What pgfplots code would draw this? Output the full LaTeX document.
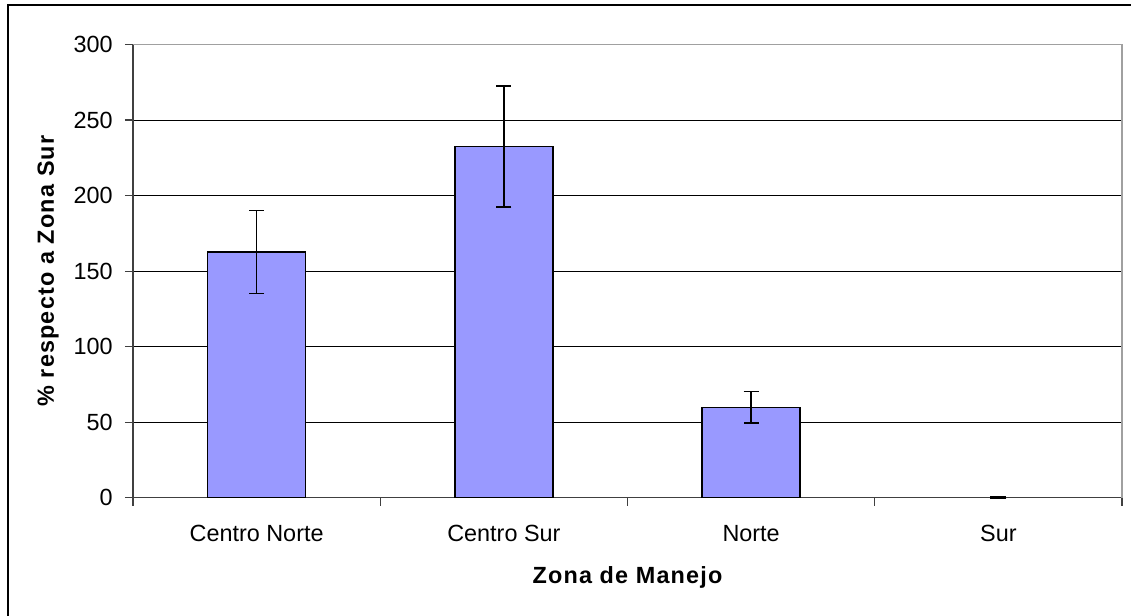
\documentclass[border=0pt]{standalone}
\usepackage{fontspec}
\setmainfont{Liberation Sans}
\newfontfamily\lblfont[LetterSpace=5]{Liberation Sans}
\usepackage{pgfplots}
\pgfplotsset{compat=1.18}
\definecolor{barblue}{HTML}{9999FF}
\definecolor{bordergray}{HTML}{A0A0A0}
\definecolor{axisgray}{HTML}{404040}
\begin{document}
\begin{tikzpicture}
\useasboundingbox (-66.5pt,-59.15pt) rectangle (499pt,248.85pt);
\begin{axis}[
  at={(0pt,0pt)}, anchor=south west,
  scale only axis, width=494.5pt, height=226.6pt,
  xmin=-0.5, xmax=3.5, ymin=0, ymax=300,
  axis x line*=bottom, axis y line*=left,
  axis line style={axisgray, line width=0.6pt},
  xtick={-0.5,0.5,1.5,2.5,3.5},
  x tick label as interval,
  xticklabels={Centro Norte,Centro Sur,Norte,Sur},
  ytick={0,50,100,150,200,250,300},
  tick align=outside, major tick length=4pt,
  tick style={axisgray, line width=0.6pt},
  xtick pos=bottom, ytick pos=left,
  ymajorgrids, major grid style={black, line width=0.5pt},
  /pgf/number format/assume math mode=true,
  tick label style={font=\fontsize{11.7}{14}\selectfont, text=black},
  yticklabel style={anchor=east, inner sep=0pt, xshift=-6pt},
  xticklabel style={anchor=base, inner sep=0pt, yshift=-18pt},
  xlabel={\lblfont\bfseries Zona de Manejo},
  ylabel={\lblfont\bfseries \% respecto a Zona Sur},
  label style={font=\fontsize{11.7}{14}\selectfont},
  x label style={at={(axis description cs:0.5,-0.175)}, anchor=center},
  y label style={at={(axis description cs:-0.0859,0.5)}, anchor=center},
  clip=false,
]
\addplot[ybar, bar width=49pt, bar shift=0pt, fill=barblue, draw=black, line width=0.75pt,
  error bars/.cd, y dir=both, y explicit,
  error mark=-,
  error bar style={black, line width=0.65pt},
  error mark options={rotate=90, black, mark size=3.75pt, line width=0.65pt}]
  coordinates {
    (0,162.5) +- (0,27.5)
    (1,232.5) +- (0,40)
    (2,59.8)  +- (0,10.4)
  };
% Sur: value 0, error 0 (only the cap is visible)
\addplot[only marks, mark=-, mark size=4pt, black, mark options={line width=1.5pt}]
  coordinates {
    (3,0)
  };
\draw[bordergray, line width=0.75pt] (rel axis cs:0,1) -- (rel axis cs:1,1) -- (rel axis cs:1,0);
\end{axis}
\draw[black, line width=0.8pt] (-62.5pt,-80pt) -- (-62.5pt,246.35pt) -- (520pt,246.35pt);
\end{tikzpicture}
\end{document}
